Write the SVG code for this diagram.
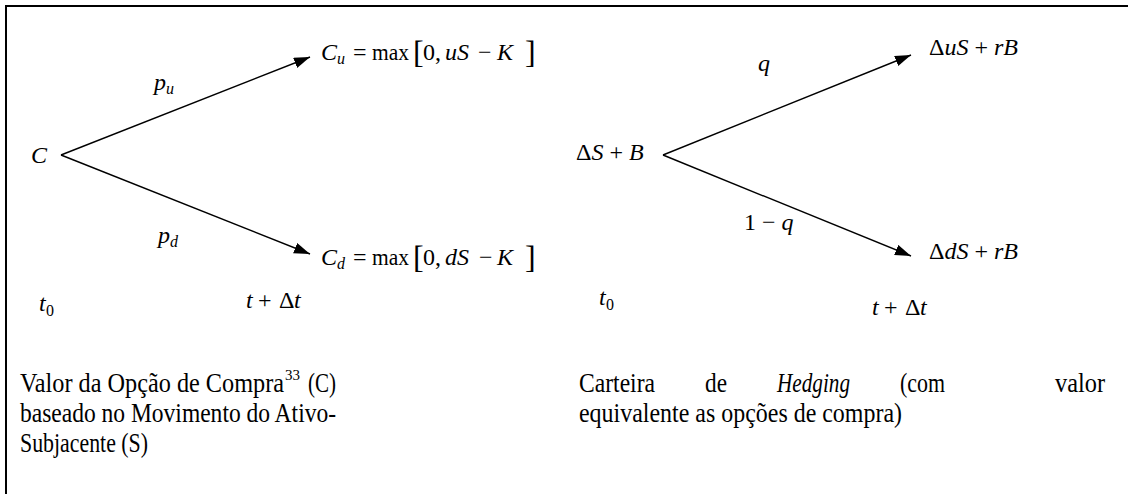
<svg xmlns="http://www.w3.org/2000/svg" width="1129" height="494" viewBox="0 0 1129 494" font-family="'Liberation Serif', 'Times New Roman', 'DejaVu Serif', serif">
<style>
text{font-family:'Liberation Serif','Times New Roman','DejaVu Serif',serif;fill:#000}
.m{font-size:24px}
.i{font-style:italic}
.s{font-size:16px}
.b{font-size:32px}
.t{font-size:28px}
.edge{stroke:#000;stroke-width:1.4;fill:none}
</style>
<defs>
<marker id="ah" markerUnits="userSpaceOnUse" markerWidth="18" markerHeight="12" refX="16" refY="5.5" orient="auto">
<path d="M0,0 L16,5.5 L0,11 z" fill="#000"/>
</marker>
</defs>
<rect width="1129" height="494" fill="#fff"/>
<path d="M6,494 V6 H1128" stroke="#000" stroke-width="2" fill="none"/>
<g id="connectors">
<line class="edge" x1="61" y1="155" x2="310" y2="57" marker-end="url(#ah)"/>
<line class="edge" x1="61" y1="155" x2="310" y2="254" marker-end="url(#ah)"/>
<line class="edge" x1="663" y1="155" x2="911" y2="55" marker-end="url(#ah)"/>
<line class="edge" x1="663" y1="155" x2="911" y2="256" marker-end="url(#ah)"/>
</g>
<g id="left-root"><text class="m i" x="31" y="163">C</text></g>
<g id="left-up">
<text class="m"><tspan class="i" x="321" y="60">C</tspan><tspan class="i s" x="337" y="64">u</tspan><tspan x="353" y="60">=</tspan><tspan x="372" y="60" textLength="37" lengthAdjust="spacingAndGlyphs">max</tspan><tspan class="b" x="413" y="63">[</tspan><tspan x="423" y="60">0,</tspan><tspan class="i" x="445" y="60">uS</tspan><tspan x="478" y="60">−</tspan><tspan class="i" x="497" y="60">K</tspan><tspan class="b" x="525" y="63">]</tspan></text>
</g>
<g id="left-down">
<text class="m"><tspan class="i" x="321" y="265">C</tspan><tspan class="i s" x="337" y="269">d</tspan><tspan x="353" y="265">=</tspan><tspan x="372" y="265" textLength="37" lengthAdjust="spacingAndGlyphs">max</tspan><tspan class="b" x="413" y="268">[</tspan><tspan x="423" y="265">0,</tspan><tspan class="i" x="445" y="265">dS</tspan><tspan x="479" y="265">−</tspan><tspan class="i" x="497" y="265">K</tspan><tspan class="b" x="525" y="268">]</tspan></text>
</g>
<g id="left-labels">
<text class="m"><tspan class="i" x="154" y="90">p</tspan><tspan class="i s" x="166" y="94">u</tspan></text>
<text class="m"><tspan class="i" x="158" y="243">p</tspan><tspan class="i s" x="170" y="247">d</tspan></text>
<text class="m"><tspan class="i" x="39" y="311">t</tspan><tspan class="s" x="46" y="316">0</tspan></text>
<text class="m"><tspan class="i" x="246" y="308">t</tspan><tspan x="258" y="308">+</tspan><tspan x="279" y="308">Δ</tspan><tspan class="i" x="294" y="308">t</tspan></text>
</g>
<g id="right-root"><text class="m" x="576" y="160">Δ<tspan class="i">S</tspan> + <tspan class="i">B</tspan></text></g>
<g id="right-up"><text class="m" x="929" y="55">Δ<tspan class="i">uS</tspan> + <tspan class="i">rB</tspan></text></g>
<g id="right-down"><text class="m" x="929" y="259">Δ<tspan class="i">dS</tspan> + <tspan class="i">rB</tspan></text></g>
<g id="right-labels">
<text class="m i" x="758" y="71">q</text>
<text class="m" x="744" y="230">1 − <tspan class="i">q</tspan></text>
<text class="m"><tspan class="i" x="599" y="305">t</tspan><tspan class="s" x="606" y="310">0</tspan></text>
<text class="m"><tspan class="i" x="872" y="315">t</tspan><tspan x="884" y="315">+</tspan><tspan x="905" y="315">Δ</tspan><tspan class="i" x="920" y="315">t</tspan></text>
</g>
<g id="caption-left">
<text class="t"><tspan x="20" y="392" textLength="264" lengthAdjust="spacingAndGlyphs">Valor da Opção de Compra</tspan><tspan font-size="15" x="285" y="380">33</tspan><tspan x="308" y="392" textLength="28" lengthAdjust="spacingAndGlyphs">(C)</tspan></text>
<text class="t" x="20" y="422" textLength="316" lengthAdjust="spacingAndGlyphs">baseado no Movimento do Ativo-</text>
<text class="t" x="20" y="452" textLength="128" lengthAdjust="spacingAndGlyphs">Subjacente (S)</text>
</g>
<g id="caption-right">
<text class="t" y="392"><tspan x="579" textLength="76" lengthAdjust="spacingAndGlyphs">Carteira</tspan><tspan x="705" textLength="22" lengthAdjust="spacingAndGlyphs">de</tspan><tspan x="777" font-style="italic" textLength="73" lengthAdjust="spacingAndGlyphs">Hedging</tspan><tspan x="900" textLength="45" lengthAdjust="spacingAndGlyphs">(com</tspan><tspan x="1055" textLength="50" lengthAdjust="spacingAndGlyphs">valor</tspan></text>
<text class="t" x="579" y="422" textLength="323" lengthAdjust="spacingAndGlyphs">equivalente as opções de compra)</text>
</g>
</svg>
